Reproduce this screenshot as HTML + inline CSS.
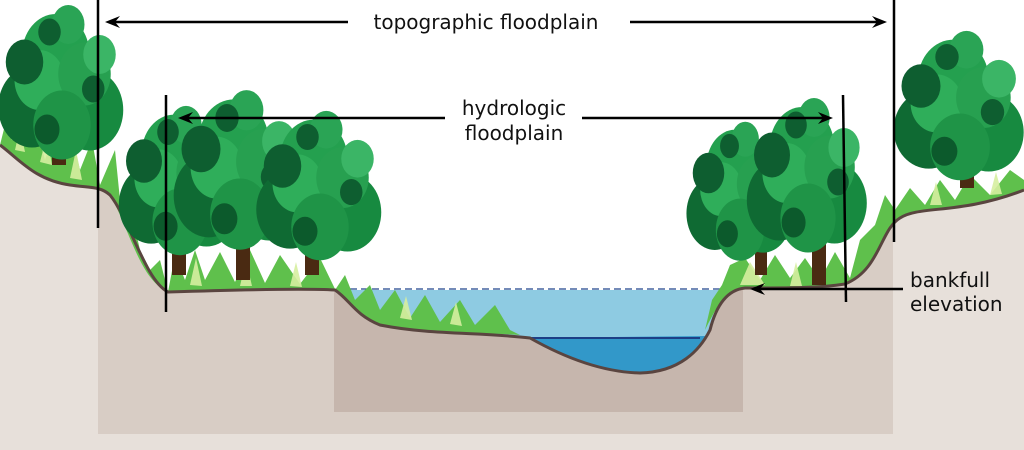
<!DOCTYPE html>
<html><head><style>
html,body{margin:0;padding:0;background:#fff;}
svg{display:block;}
text{font-family:"DejaVu Sans","Liberation Sans",sans-serif;font-size:20px;fill:#111;}
</style></head><body>
<svg width="1024" height="450" viewBox="0 0 1024 450" xmlns="http://www.w3.org/2000/svg">
<defs>
<g id="tree">
<circle cx="0" cy="0" r="32" fill="#0c5a2c"/>
<circle cx="-24" cy="10" r="27" fill="#0f6a33"/>
<circle cx="22" cy="12" r="27" fill="#178a40"/>
<circle cx="-5" cy="-25" r="27" fill="#24a04f"/>
<circle cx="-18" cy="-8" r="20" fill="#2fae5a"/>
<circle cx="18" cy="-12" r="21" fill="#27a050"/>
<circle cx="0" cy="22" r="23" fill="#1f9447"/>
<circle cx="-30" cy="-20" r="15" fill="#0e5e30"/>
<circle cx="30" cy="-25" r="13" fill="#3bb566"/>
<circle cx="5" cy="-45" r="13" fill="#2aa455"/>
<circle cx="-12" cy="25" r="10" fill="#0c5a2c"/>
<circle cx="25" cy="-2" r="9" fill="#0e5e30"/>
<circle cx="-10" cy="-40" r="9" fill="#0e5e30"/>
</g>
</defs>
<rect x="0" y="140" width="1024" height="310" fill="#e7e0da"/>
<rect x="98" y="190" width="795" height="244" fill="#d8cdc5"/>
<rect x="334" y="290" width="409" height="122" fill="#c6b6ad"/>
<path d="M0,0 L0,145 C20,160 35,180 70,185 C90,188 100,186 110,195 C130,220 145,280 168,292 C230,290 300,288 335,290 C350,300 355,315 380,325 C430,335 480,332 530,338 C560,355 600,372 640,373 C680,372 700,350 710,330 C715,310 725,290 745,288 C790,288 820,288 845,284 C880,270 880,230 900,218 C920,205 960,215 1024,190 L1024,0 Z" fill="#fff"/>
<path d="M335,290 L722,290 C716,305 712,320 706,338 L530,338 C480,332 430,335 380,325 C355,315 350,300 335,290 Z" fill="#8ecbe2"/>
<path d="M528,338 C560,355 600,372 640,373 C680,372 700,350 707,336 Z" fill="#3298c9"/>
<line x1="530" y1="338" x2="700" y2="338" stroke="#1d3f86" stroke-width="2"/>
<line x1="350" y1="289" x2="720" y2="289" stroke="#22468e" stroke-width="1.2" stroke-dasharray="7,4"/>
<g fill="#5fc04c">
<path d="M0,145 L5,125 L12,140 L20,120 L28,145 L36,125 L45,160 L55,130 L62,165 L72,135 L80,170 L92,140 L100,185 L115,150 L120,200 L132,215 L140,250 L150,270 L160,260 L168,292 C140,280 130,230 110,195 C100,186 90,188 70,185 C35,180 20,160 0,145Z"/>
<path d="M168,292 L175,255 L185,280 L195,250 L205,280 L220,252 L235,282 L250,250 L265,283 L280,255 L300,284 L320,258 L335,289 Z" />
<path d="M335,290 L345,275 L355,300 L370,285 L380,310 L395,290 L410,318 L425,295 L440,322 L460,300 L475,325 L495,305 L510,330 L520,335 C480,332 430,335 380,325 C355,315 350,300 335,290 Z"/>
<path d="M705,330 L712,300 L722,285 L730,265 L745,258 L760,280 L775,255 L790,278 L805,258 L820,280 L835,252 L850,278 L860,240 L875,225 L885,195 L895,210 L910,188 L925,205 L940,180 L955,200 L970,175 L990,195 L1010,170 L1024,180 L1024,190 C960,215 920,205 900,218 C880,230 880,270 845,284 C820,288 790,288 745,288 C725,290 715,310 705,330 Z"/>
</g>
<g fill="#d6eea0" opacity="0.9">
<path d="M15,150 L20,128 L25,152 Z M40,162 L47,135 L52,165 Z M70,178 L76,150 L82,180 Z M190,285 L196,258 L202,286 Z M240,286 L246,260 L252,286 Z M290,286 L296,262 L302,287 Z M400,318 L406,296 L412,320 Z M450,324 L456,302 L462,326 Z M740,285 L750,262 L765,285 Z M790,286 L796,262 L802,286 Z M930,205 L936,182 L942,205 Z M990,195 L996,172 L1002,194 Z"/>
</g>
<path d="M0,145 C20,160 35,180 70,185 C90,188 100,186 110,195 C130,220 145,280 168,292 C230,290 300,288 335,290 C350,300 355,315 380,325 C430,335 480,332 530,338 C560,355 600,372 640,373 C680,372 700,350 710,330 C715,310 725,290 745,288 C790,288 820,288 845,284 C880,270 880,230 900,218 C920,205 960,215 1024,190" fill="none" stroke="#5a4540" stroke-width="3"/>
<g fill="#4a2a12">
<rect x="52" y="135" width="14" height="30"/>
<rect x="172" y="225" width="14" height="50"/>
<rect x="236" y="225" width="14" height="55"/>
<rect x="305" y="245" width="14" height="30"/>
<rect x="755" y="240" width="12" height="35"/>
<rect x="812" y="240" width="14" height="45"/>
<rect x="960" y="160" width="14" height="28"/>
</g>
<use href="#tree" transform="translate(62,92) scale(1.25,1.5)"/>
<use href="#tree" transform="translate(180,190) scale(1.2,1.45)"/>
<use href="#tree" transform="translate(240,180) scale(1.3,1.55)"/>
<use href="#tree" transform="translate(320,195) scale(1.25,1.45)"/>
<use href="#tree" transform="translate(740,200) scale(1.05,1.35)"/>
<use href="#tree" transform="translate(808,185) scale(1.2,1.5)"/>
<use href="#tree" transform="translate(960,115) scale(1.3,1.45)"/>
<g stroke="#000" stroke-width="2.5">
<line x1="98" y1="0" x2="98" y2="228"/>
<line x1="894" y1="0" x2="894" y2="242"/>
<line x1="166" y1="95" x2="166" y2="312"/>
<line x1="843" y1="95" x2="846" y2="302"/>
<line x1="110" y1="22" x2="348" y2="22"/>
<line x1="630" y1="22" x2="880" y2="22"/>
<line x1="185" y1="118" x2="445" y2="118"/>
<line x1="582" y1="118" x2="826" y2="118"/>
<line x1="758" y1="289" x2="903" y2="289"/>
</g>
<g fill="#000">
<path d="M105,22 L120,16 L115,22 L120,28 Z"/>
<path d="M887,22 L872,16 L877,22 L872,28 Z"/>
<path d="M178,118 L193,112 L188,118 L193,124 Z"/>
<path d="M833,118 L818,112 L823,118 L818,124 Z"/>
<path d="M750,289 L765,283 L760,289 L765,295 Z"/>
</g>
<text x="486" y="29" text-anchor="middle">topographic floodplain</text>
<text x="514" y="115" text-anchor="middle">hydrologic</text>
<text x="514" y="140" text-anchor="middle">floodplain</text>
<text x="910" y="287">bankfull</text>
<text x="910" y="311">elevation</text>
</svg>
</body></html>
